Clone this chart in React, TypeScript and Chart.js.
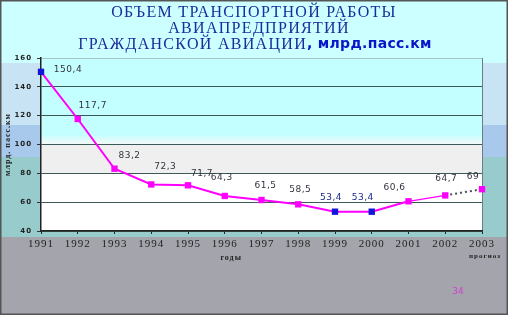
import { useEffect, useRef } from 'react';
import { Chart, registerables } from 'chart.js';

Chart.register(...registerables);

const titleLine1 = 'ОБЪЕМ ТРАНСПОРТНОЙ РАБОТЫ';
const titleLine2 = 'АВИАПРЕДПРИЯТИЙ';
const titleLine3 = 'ГРАЖДАНСКОЙ АВИАЦИИ';
const titleUnit = ', млрд.пасс.км';
const yTitle = 'млрд. пасс.км';
const xTitle = 'годы';
const forecastNote = 'прогноз';
const pageNumber = '34';

const years = ['1991', '1992', '1993', '1994', '1995', '1996', '1997', '1998', '1999', '2000', '2001', '2002', '2003'];
const volume = [150.4, 117.7, 83.2, 72.3, 71.7, 64.3, 61.5, 58.5, 53.4, 53.4, 60.6, 64.7, 69];
const highlighted = [0, 8, 9];
const yMin = 40;
const yMax = 160;
const yStep = 20;

// label placement relative to each point (px)
const labelDx = [27, 15, 15, 14, 14, -3, 4, 2, -4, -9, -14, 1, -9];
const labelDy = [2, 13, 13, 18, 12, 18, 14, 15, 14, 14, 14, 17, 13];

const MAGENTA = '#ff00ff';
const BLUE = '#1414d8';
const pointColors = volume.map((_, i) => (highlighted.includes(i) ? BLUE : MAGENTA));
const forecastIdx = years.length - 1;

const backdrop = {
  id: 'backdrop',
  beforeDraw(chart: any) {
    const { ctx, chartArea: ca, scales } = chart;
    const W = chart.width;
    const H = chart.height;
    const y = scales.y;
    const grayTop = ca.bottom + 6;
    ctx.save();
    ctx.fillStyle = '#ccffff';
    ctx.fillRect(0, 0, W, grayTop);
    ctx.fillStyle = '#c8e4f4';
    ctx.fillRect(0, 63, W, 62);
    ctx.fillStyle = '#a8c8ec';
    ctx.fillRect(0, 125, W, 32);
    ctx.fillStyle = '#98cccc';
    ctx.fillRect(0, 157, W, grayTop - 157);
    // plot area
    const y100 = y.getPixelForValue(100);
    const y80 = y.getPixelForValue(80);
    const g = ctx.createLinearGradient(0, ca.top, 0, y100);
    const h = y100 - ca.top;
    g.addColorStop(0, '#c4ffff');
    g.addColorStop(Math.max(0, (h - 10) / h), '#c4ffff');
    g.addColorStop(1, '#f6f8f8');
    ctx.fillStyle = g;
    ctx.fillRect(ca.left, ca.top, ca.right - ca.left, h);
    ctx.fillStyle = '#efefef';
    ctx.fillRect(ca.left, y100, ca.right - ca.left, y80 - y100);
    ctx.fillStyle = '#ffffff';
    ctx.fillRect(ca.left, y80, ca.right - ca.left, ca.bottom - y80);
    ctx.strokeStyle = '#6a8080';
    ctx.lineWidth = 1;
    ctx.beginPath();
    ctx.moveTo(ca.right + 0.5, ca.top);
    ctx.lineTo(ca.right + 0.5, ca.bottom);
    ctx.stroke();
    ctx.fillStyle = '#a4a4ac';
    ctx.fillRect(0, grayTop, W, H - grayTop);
    ctx.restore();
    ctx.letterSpacing = '1px';
  },
};

const valueLabels = {
  id: 'valueLabels',
  afterDatasetsDraw(chart: any) {
    const { ctx } = chart;
    const meta = chart.getDatasetMeta(0);
    ctx.save();
    ctx.font = '9px "DejaVu Sans"';
    ctx.letterSpacing = '0.5px';
    ctx.textAlign = 'center';
    ctx.textBaseline = 'middle';
    meta.data.forEach((el: any, i: number) => {
      ctx.fillStyle = highlighted.includes(i) && i > 0 ? '#1a2a8a' : '#333340';
      const txt = String(volume[i]).replace('.', ',');
      ctx.fillText(txt, el.x + labelDx[i], el.y - labelDy[i]);
    });
    ctx.restore();
  },
};

const decorations = {
  id: 'decorations',
  afterDraw(chart: any) {
    const { ctx, chartArea: ca, scales } = chart;
    const W = chart.width;
    const H = chart.height;
    ctx.save();
    // title
    ctx.fillStyle = '#1c2c9c';
    ctx.textBaseline = 'middle';
    ctx.textAlign = 'center';
    ctx.font = '16px "Liberation Serif"';
    ctx.letterSpacing = '1.3px';
    ctx.fillText(titleLine1, 254, 13);
    ctx.fillText(titleLine2, 259, 29);
    ctx.textAlign = 'left';
    const w1 = ctx.measureText(titleLine3).width;
    ctx.font = 'bold 14px "DejaVu Sans"';
    ctx.letterSpacing = '0.3px';
    const w2 = ctx.measureText(titleUnit).width;
    const x0 = 255 - (w1 + w2) / 2;
    ctx.font = '16px "Liberation Serif"';
    ctx.letterSpacing = '1.3px';
    ctx.fillText(titleLine3, x0, 45);
    ctx.fillStyle = '#0a14c8';
    ctx.font = 'bold 14px "DejaVu Sans"';
    ctx.letterSpacing = '0.3px';
    ctx.fillText(titleUnit, x0 + w1, 44);
    // axis notes
    ctx.fillStyle = '#222';
    ctx.textAlign = 'center';
    ctx.font = 'bold 8px "Liberation Serif"';
    ctx.letterSpacing = '1px';
    const x = scales.x;
    ctx.fillText(xTitle, (x.getPixelForValue(5) + x.getPixelForValue(6)) / 2 - 12, ca.bottom + 27);
    ctx.font = 'bold 7px "Liberation Serif"';
    ctx.fillText(forecastNote, x.getPixelForValue(forecastIdx) + 3, ca.bottom + 25);
    // page number
    ctx.fillStyle = '#d040d0';
    ctx.font = '9px "DejaVu Sans"';
    ctx.letterSpacing = '0px';
    ctx.fillText(pageNumber, 458, 292);
    // frame
    ctx.strokeStyle = '#555';
    ctx.lineWidth = 1.5;
    ctx.strokeRect(0.75, 0.75, W - 1.5, H - 1.5);
    ctx.restore();
  },
};

export default function App() {
  const ref = useRef<HTMLCanvasElement>(null);
  useEffect(() => {
    if (!ref.current) return;
    const chart = new Chart(ref.current, {
      type: 'line',
      data: {
        labels: years,
        datasets: [
          {
            data: volume,
            borderColor: MAGENTA,
            borderWidth: 2,
            tension: 0,
            pointStyle: 'rect',
            pointRadius: 4.5,
            pointBorderWidth: 0,
            pointBackgroundColor: pointColors,
            pointBorderColor: pointColors,
            clip: false as any,
            segment: {
              borderDash: (c: any) => (c.p1DataIndex === forecastIdx ? [2, 3] : undefined),
              borderColor: (c: any) => (c.p1DataIndex === forecastIdx ? '#505060' : undefined),
              borderWidth: (c: any) => (c.p1DataIndex === forecastIdx - 1 ? 1.2 : undefined),
            },
          },
        ],
      },
      options: {
        responsive: false,
        animation: false,
        devicePixelRatio: 1,
        layout: { padding: { top: 58, right: 26, left: 0, bottom: 0 } },
        plugins: { legend: { display: false }, tooltip: { enabled: false }, title: { display: false } },
        scales: {
          x: {
            offset: false,
            grid: { display: true, drawOnChartArea: false, drawTicks: true, tickLength: 3, color: '#222' },
            border: { display: true, color: '#222', width: 1.5 },
            ticks: { font: { family: 'Liberation Serif', size: 11 }, color: '#222', padding: 4, maxRotation: 0, autoSkip: false },
            afterFit: (s: any) => {
              s.height = 84;
            },
          },
          y: {
            min: yMin,
            max: yMax,
            ticks: { stepSize: yStep, font: { family: 'DejaVu Sans', size: 7, weight: 'bold' }, color: '#222', padding: 5 },
            grid: {
              color: (c: any) => (c.tick && c.tick.value === yMax ? '#a8c4c4' : '#3c5858'),
              tickColor: '#333',
              tickLength: 4,
              lineWidth: 1,
            },
            border: { display: true, color: '#222', width: 1.5 },
            title: {
              display: true,
              text: yTitle,
              font: { family: 'Liberation Serif', size: 8, weight: 'bold' },
              color: '#222',
              padding: { top: 3, bottom: 0 },
            },
            afterFit: (s: any) => {
              s.width = 41;
            },
          },
        },
      },
      plugins: [backdrop, valueLabels, decorations],
    });
    return () => chart.destroy();
  }, []);
  return (
    <div style={{ position: 'fixed', left: 0, top: 0, width: 508, height: 315 }}>
      <canvas ref={ref} width={508} height={315} style={{ display: 'block' }} />
    </div>
  );
}
